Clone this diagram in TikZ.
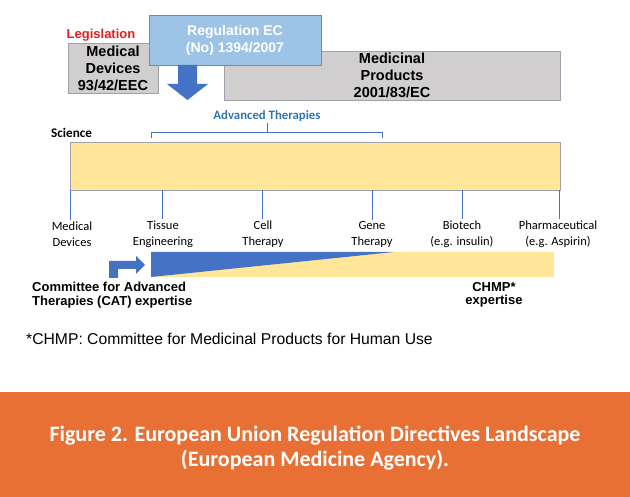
\documentclass[tikz,border=0pt]{standalone}
\usepackage{fontspec}
\setmainfont{Liberation Sans}
\newfontfamily\calibri{Carlito}
\usepackage{xcolor}
\usetikzlibrary{positioning,calc}
\definecolor{eugray}{RGB}{208,206,206}
\definecolor{eugrayline}{RGB}{160,160,170}
\definecolor{euskyblue}{RGB}{157,195,230}
\definecolor{euskyline}{RGB}{110,140,175}
\definecolor{eublue}{RGB}{68,114,196}
\definecolor{eutextblue}{RGB}{46,117,182}
\definecolor{euyellow}{RGB}{255,230,153}
\definecolor{eured}{RGB}{224,32,32}
\definecolor{euorange}{RGB}{233,112,52}

\begin{document}
\begin{tikzpicture}[x=1pt,y=-1pt,
  lawbox/.style={draw=eugrayline,fill=eugray,line width=.6pt,align=center,
    font=\fontsize{14.5}{17}\selectfont\bfseries,inner sep=0pt},
  regbox/.style={draw=euskyline,fill=euskyblue,line width=.6pt,align=center,text=white,
    font=\fontsize{14}{17}\selectfont\bfseries,inner sep=0pt},
  field/.style={font=\calibri\fontsize{12.5}{16}\selectfont,align=center,inner sep=1pt},
  tick/.style={draw=eublue,line width=.8pt},
  expert/.style={font=\fontsize{13}{13.5}\selectfont\bfseries,align=center,inner sep=0pt}]

\path[use as bounding box] (0,0) rectangle (630,497);
% legislation row
\node[font=\fontsize{13}{15}\selectfont\bfseries,text=eured,inner sep=0pt] (legis) at (101,35) {Legislation};
\node[lawbox,minimum width=90pt,minimum height=50pt] (meddev) at (113,68) {Medical\\Devices\\93/42/EEC};
\node[lawbox,minimum width=336pt,minimum height=49pt] (medprod) at (392,75.5) {Medicinal\\Products\\2001/83/EC};
\node[regbox,minimum width=172pt,minimum height=50pt] (reg) at (235,40) {Regulation EC\\(No) 1394/2007};
\fill[eublue] (178,65)--(197,65)--(197,84)--(208,84)--(187.5,100)--(167,84)--(178,84)--cycle;

% science row
\node[font=\fontsize{12.8}{14}\selectfont\calibri\bfseries,text=eutextblue,inner sep=1pt] (adv) at (267,116) {Advanced Therapies};
\draw[tick,line width=1pt] (151,138)--(151,133)--(382,133)--(382,138);
\draw[tick,line width=1pt] (267,133)--(adv.south);
\node[font=\calibri\fontsize{13.2}{14}\selectfont\bfseries,anchor=west,inner sep=0pt] (scilabel) at (51,133) {Science};
\node[draw=eugrayline,fill=euyellow,line width=.6pt,minimum width=490pt,minimum height=48pt,inner sep=0pt] (sci) at (315,166) {};

\node[field] (lmd) at (72,234) {Medical\\Devices};
\node[field] (lte) at (163,234) {Tissue\\Engineering};
\node[field] (lct) at (263,234) {Cell\\Therapy};
\node[field] (lgt) at (372,234) {Gene\\Therapy};
\node[field] (lbt) at (462,234) {Biotech\\(e.g. insulin)};
\node[field] (lph) at (558,234) {Pharmaceutical\\(e.g. Aspirin)};
\foreach \lbl/\xx in {lmd/70,lte/162,lct/262,lgt/372,lbt/462,lph/559}
  \draw[tick] (\xx,0 |- sci.south)--(\xx,0 |- \lbl.north);

% expertise wedge
\fill[euyellow] (151,252) rectangle (554,277);
\fill[eublue] (151,252)--(394,252)--(151,277)--cycle;
\fill[eublue] (109,278)--(109,261)--(136,261)--(136,256)--(145,265)--(136,274)--(136,269)--(118,269)--(118,278)--cycle;
\node[expert,align=left,anchor=west] (cat) at (32,295) {Committee for Advanced\\Therapies (CAT) expertise};
\node[expert] (chmp) at (494,295) {CHMP*\\expertise};

\node[font=\fontsize{15.7}{17}\selectfont,anchor=west,inner sep=0pt] (foot) at (26,339) {*CHMP: Committee for Medicinal Products for Human Use};

% caption band
\fill[euorange] (0,392) rectangle (630,497);
\node[font=\calibri\fontsize{22}{25}\selectfont\bfseries,text=white,align=center] (caption) at (315,448.5)
  {Figure 2. European Union Regulation Directives Landscape\\(European Medicine Agency).};

\end{tikzpicture}
\end{document}
